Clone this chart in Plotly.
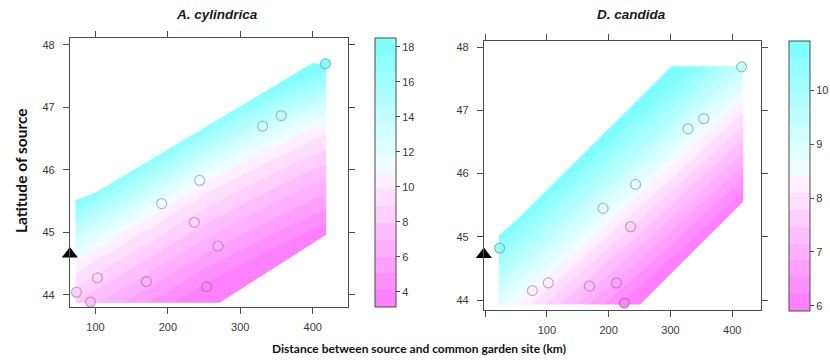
import plotly.graph_objects as go

# ---------------- data ----------------
# Latitude grid (rows of the prediction surfaces)
grid_lat = [43.8, 44.2, 44.6, 45.0, 45.4, 45.8, 46.2, 46.6, 47.0, 47.4, 47.8]

# A. cylindrica surface
cyl_grid_dist = [60, 100, 150, 200, 250, 300, 350, 400, 430]
cyl_z = [
    [8.0, 6.8, 5.4, 4.0, 2.6, 1.5, 1.5, 1.5, 1.5],
    [9.6, 8.4, 7.0, 5.6, 4.2, 3.0, 1.8, 1.5, 1.5],
    [11.6, 10.0, 8.6, 7.2, 5.8, 4.6, 3.4, 2.3, 1.8],
    [14.7, 12.4, 10.2, 8.8, 7.4, 6.2, 5.0, 3.9, 3.4],
    [17.8, 15.5, 12.8, 10.4, 9.0, 7.8, 6.6, 5.5, 5.0],
    [20.9, 18.6, 15.9, 13.1, 10.6, 9.4, 8.2, 7.1, 6.6],
    [21.0, 21.0, 19.0, 16.3, 13.5, 11.2, 9.8, 8.7, 8.2],
    [21.0, 21.0, 21.0, 19.4, 16.7, 14.3, 12.0, 10.3, 9.8],
    [21.0, 21.0, 21.0, 21.0, 19.8, 17.4, 15.1, 13.3, 12.5],
    [21.0, 21.0, 21.0, 21.0, 21.0, 20.6, 18.4, 16.6, 15.8],
    [21.0, 21.0, 21.0, 21.0, 21.0, 21.0, 21.0, 19.6, 19.0],
]
cyl_zrange = [3.14, 18.51]
cyl_cbar_ticks = [4, 6, 8, 10, 12, 14, 16, 18]
# prediction region outline
cyl_upper_dist = [72.6, 101.0, 400.0, 418.6]
cyl_upper_lat = [45.51, 45.64, 47.71, 47.68]
cyl_lower_dist = [72.6, 271.4, 418.6]
cyl_lower_lat = [43.87, 43.87, 44.96]
# source populations
cyl_pts_dist = [73.7, 93.1, 102.7, 170.3, 191.4, 236.5, 243.9, 269.1, 253.5, 330.8, 356.6, 417.7]
cyl_pts_lat = [44.04, 43.88, 44.27, 44.21, 45.46, 45.16, 45.83, 44.78, 44.13, 46.70, 46.87, 47.70]
cyl_pts_val = [8.6, 7.3, 8.6, 6.5, 11.0, 8.4, 11.0, 6.1, 3.8, 13.7, 13.8, 18.0]

# D. candida surface
can_grid_dist = [0, 50, 100, 150, 200, 250, 300, 350, 400, 430]
can_z = [
    [8.94, 8.20, 7.54, 6.88, 6.22, 5.56, 5.50, 5.50, 5.50, 5.50],
    [9.66, 8.87, 8.14, 7.48, 6.82, 6.16, 5.50, 5.50, 5.50, 5.50],
    [10.38, 9.59, 8.80, 8.08, 7.42, 6.76, 6.10, 5.50, 5.50, 5.50],
    [11.10, 10.31, 9.52, 8.73, 8.02, 7.36, 6.70, 6.04, 5.50, 5.50],
    [11.30, 11.03, 10.24, 9.45, 8.65, 7.96, 7.30, 6.64, 5.98, 5.57],
    [11.30, 11.30, 10.96, 10.17, 9.37, 8.58, 7.90, 7.24, 6.58, 6.17],
    [11.30, 11.30, 11.30, 10.89, 10.09, 9.30, 8.51, 7.84, 7.18, 6.77],
    [11.30, 11.30, 11.30, 11.30, 10.81, 10.02, 9.23, 8.44, 7.78, 7.37],
    [11.30, 11.30, 11.30, 11.30, 11.30, 10.74, 9.95, 9.16, 8.38, 7.97],
    [11.30, 11.30, 11.30, 11.30, 11.30, 11.30, 10.67, 9.88, 9.09, 8.60],
    [11.30, 11.30, 11.30, 11.30, 11.30, 11.30, 11.30, 10.60, 9.81, 9.32],
]
can_zrange = [5.91, 10.92]
can_cbar_ticks = [6, 7, 8, 9, 10]
can_upper_dist = [22.3, 51.7, 302.0, 418.0]
can_upper_lat = [45.02, 45.27, 47.70, 47.70]
can_lower_dist = [22.3, 251.0, 418.0]
can_lower_lat = [43.93, 43.93, 45.56]
can_pts_dist = [415.2, 328.5, 353.9, 243.6, 191.0, 235.5, 23.2, 76.5, 102.2, 168.9, 212.4, 225.3]
can_pts_lat = [47.69, 46.71, 46.87, 45.83, 45.45, 45.16, 44.82, 44.15, 44.27, 44.22, 44.27, 43.95]
can_pts_val = [9.36, 8.96, 8.85, 8.73, 8.89, 7.78, 10.4, 8.36, 8.2, 7.25, 6.75, 6.0]

# common garden latitude (triangle)
garden_lat = [44.65, 44.72]

panel_titles = ["A. cylindrica", "D. candida"]
x_title = "Distance between source and common garden site (km)"
y_title = "Latitude of source"

# ---------------- styling ----------------
W, H = 830, 360
band_colors = ["#FF80FF", "#FF8FFF", "#FF9FFF", "#FFAFFF", "#FFBFFF", "#FFCFFF", "#FFDFFF", "#FFEFFF",
               "#EFFFFF", "#DFFFFF", "#CFFFFF", "#BFFFFF", "#AFFFFF", "#9FFFFF", "#8FFFFF", "#80FFFF"]
n = len(band_colors)
stepped = []
for i, c in enumerate(band_colors):
    stepped.append([i / n, c])
    stepped.append([(i + 1) / n, c])

FRAME = "#4d4d4d"
TICKFONT = dict(family="Liberation Sans, Arial, sans-serif", size=11, color="#3a3a3a")

panels = [
    dict(xa="x", ya="y", gx=cyl_grid_dist, z=cyl_z, zr=cyl_zrange, ticks=cyl_cbar_ticks,
         ux=cyl_upper_dist, uy=cyl_upper_lat, lx=cyl_lower_dist, ly=cyl_lower_lat,
         px=cyl_pts_dist, py=cyl_pts_lat, pv=cyl_pts_val,
         xrange=[64.6, 449.0], yrange=[43.803, 48.12],
         xdom=[70 / W, 349 / W], ydom=[1 - 307 / H, 1 - 37.5 / H],
         cb_x=376 / W, cb_y=1 - 172.5 / H, cb_len=269,
         xticks=[100, 200, 300, 400], xtext=["100", "200", "300", "400"]),
    dict(xa="x2", ya="y2", gx=can_grid_dist, z=can_z, zr=can_zrange, ticks=can_cbar_ticks,
         ux=can_upper_dist, uy=can_upper_lat, lx=can_lower_dist, ly=can_lower_lat,
         px=can_pts_dist, py=can_pts_lat, pv=can_pts_val,
         xrange=[-2.1, 446.9], yrange=[43.842, 48.104],
         xdom=[485 / W, 763 / W], ydom=[1 - 310 / H, 1 - 40.7 / H],
         cb_x=791 / W, cb_y=1 - 175.7 / H, cb_len=270,
         xticks=[0, 100, 200, 300, 400], xtext=["", "100", "200", "300", "400"]),
]

fig = go.Figure()

for k, p in enumerate(panels):
    fig.add_trace(go.Heatmap(
        x=p["gx"], y=grid_lat, z=p["z"], zmin=p["zr"][0], zmax=p["zr"][1],
        colorscale=stepped, zsmooth="best", xaxis=p["xa"], yaxis=p["ya"],
        hoverinfo="skip",
        colorbar=dict(x=p["cb_x"], xanchor="left", y=p["cb_y"], yanchor="middle",
                      len=p["cb_len"], lenmode="pixels", thickness=21, thicknessmode="pixels",
                      xpad=0, ypad=0, outlinewidth=1, outlinecolor=FRAME,
                      tickmode="array", tickvals=p["ticks"], ticks="outside", ticklen=4,
                      tickwidth=1, tickcolor=FRAME, tickfont=TICKFONT),
    ))
    # white masks outside the prediction region
    X0, X1 = p["xrange"][0] - 100, p["xrange"][1] + 100
    Y0, Y1 = p["yrange"][0] - 2, p["yrange"][1] + 2
    ux, uy, lx, ly = p["ux"], p["uy"], p["lx"], p["ly"]
    polys = [
        ([X0, X0] + ux + [X1, X1], [Y1, uy[0]] + uy + [uy[-1], Y1]),
        ([X0, X0] + lx + [X1, X1], [Y0, ly[0]] + ly + [ly[-1], Y0]),
        ([X0, ux[0], ux[0], X0], [Y0, Y0, Y1, Y1]),
        ([ux[-1], X1, X1, ux[-1]], [Y0, Y0, Y1, Y1]),
    ]
    for mx, my in polys:
        fig.add_trace(go.Scatter(x=mx, y=my, mode="lines", fill="toself", fillcolor="white",
                                 line=dict(width=0, color="white"), hoverinfo="skip",
                                 xaxis=p["xa"], yaxis=p["ya"]))
    # source populations
    fig.add_trace(go.Scatter(
        x=p["px"], y=p["py"], mode="markers", xaxis=p["xa"], yaxis=p["ya"],
        marker=dict(size=10, symbol="circle", color=p["pv"], colorscale=stepped,
                    cmin=p["zr"][0], cmax=p["zr"][1], showscale=False,
                    line=dict(color="rgba(95,95,95,0.42)", width=1.2)),
        hoverinfo="skip"))
    # common garden
    fig.add_trace(go.Scatter(
        x=[p["xrange"][0]], y=[garden_lat[k]], mode="markers", xaxis=p["xa"], yaxis=p["ya"],
        marker=dict(size=14, symbol="triangle-up", color="black"), cliponaxis=False,
        hoverinfo="skip"))

axis_common = dict(showline=True, linecolor=FRAME, linewidth=1, mirror="ticks",
                   ticks="outside", ticklen=6, tickwidth=1, tickcolor=FRAME,
                   showgrid=False, zeroline=False, tickfont=TICKFONT, automargin=False)

layout = dict(width=W, height=H, margin=dict(l=0, r=0, t=0, b=0),
              paper_bgcolor="white", plot_bgcolor="white", showlegend=False)
for k, p in enumerate(panels):
    sx = "" if k == 0 else "2"
    layout["xaxis" + sx] = dict(axis_common, domain=p["xdom"], range=p["xrange"],
                                tickmode="array", tickvals=p["xticks"], ticktext=p["xtext"],
                                anchor="y" + sx, ticklabelstandoff=4)
    layout["yaxis" + sx] = dict(axis_common, domain=p["ydom"], range=p["yrange"],
                                tickmode="array", tickvals=[44, 45, 46, 47, 48],
                                anchor="x" + sx, ticklabelstandoff=6)
fig.update_layout(**layout)

title_font = dict(family="Liberation Sans, Arial, sans-serif", size=13.5, color="#1a1a1a")
for txt, cx in zip(panel_titles, [218, 633]):
    fig.add_annotation(text="<b><i>" + txt + "</i></b>", x=cx / W, y=1 - 15 / H,
                       xref="paper", yref="paper", xanchor="center", yanchor="middle",
                       showarrow=False, font=title_font)
fig.add_annotation(text="<b>" + x_title + "</b>", x=420 / W, y=1 - 348 / H,
                   xref="paper", yref="paper", xanchor="center", yanchor="middle",
                   showarrow=False,
                   font=dict(family="Lato, Carlito, sans-serif", size=12, color="#111"))
fig.add_annotation(text="<b>" + y_title + "</b>", x=21 / W, y=1 - 170 / H, textangle=-90,
                   xref="paper", yref="paper", xanchor="center", yanchor="middle",
                   showarrow=False,
                   font=dict(family="Lato, Carlito, sans-serif", size=15.5, color="#111"))

fig.write_html("out.html", config={"displayModeBar": False},
               post_script="document.body.style.margin='0px';")
